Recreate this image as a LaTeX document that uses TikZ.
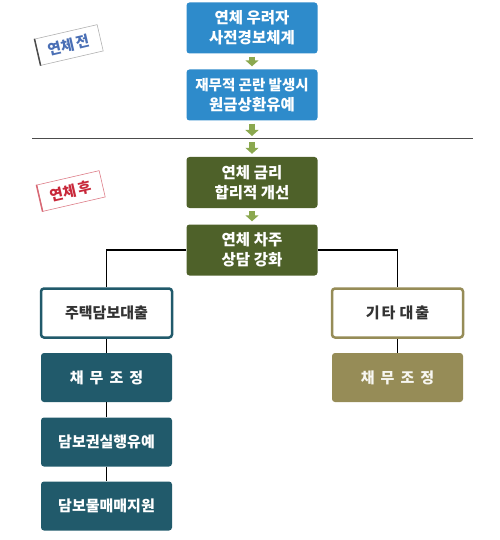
\documentclass[tikz,border=0pt]{standalone}
\usepackage{fontspec}
\setmainfont{Noto Sans CJK KR}
\usetikzlibrary{arrows.meta}
\definecolor{alertblue}{HTML}{2E8BCB}
\definecolor{aftergreen}{HTML}{4E6129}
\definecolor{mortteal}{HTML}{215A6B}
\definecolor{otherolive}{HTML}{968C57}
\definecolor{flowgreen}{HTML}{8BA84F}
\definecolor{stampblue}{HTML}{4A6FB5}
\definecolor{stampred}{HTML}{C8283A}

\begin{document}
\begin{tikzpicture}[x=1pt,y=-1pt,
    box/.style={rounded corners=3pt, minimum width=131pt, minimum height=51pt, align=center, text=white, inner sep=2pt, font=\bfseries\fontsize{15.5}{20}\selectfont},
    loanbox/.style={box, minimum height=49pt, font=\bfseries\fontsize{15}{18}\selectfont},
    headbox/.style={loanbox, fill=white, line width=2.5pt, text=black!80},
    stamp/.style={draw, fill=white, line width=0.6pt, minimum width=64pt, minimum height=27pt, inner sep=1pt, rotate=13, font=\bfseries\fontsize{14.5}{14.5}\selectfont},
    flow/.style={line width=6pt, flowgreen, -{Triangle[width=13pt,length=6pt]}, shorten <=3pt, shorten >=3pt},
    link/.style={line width=1.8pt, black}]
    \useasboundingbox (0,0) rectangle (499,540);

    % before default
    \node[box, fill=alertblue] (warn) at (252,28) {연체 우려자\\사전경보체계};
    \node[box, fill=alertblue] (defer) at (252,95) {{\fontsize{14.5}{20}\selectfont 재무적 곤란 발생시}\\원금상환유예};
    \node[stamp, draw=gray!60, text=stampblue] (before) at (69,45) {연체\hspace{2pt}전};
    \draw[line width=1.5pt, black!70] (before.north west) -- (before.south west);

    \coordinate (lineL) at (32,139);
    \coordinate (lineR) at (473,139);
    \draw[black!70, line width=1pt] (lineL) -- (lineR);

    % after default
    \node[box, fill=aftergreen] (rate) at (252,182.5) {연체 금리\\합리적 개선};
    \node[box, fill=aftergreen] (counsel) at (252,250) {연체 차주\\상담 강화};
    \node[stamp, draw=stampred!60, text=stampred] (after) at (71,191) {연체\hspace{2pt}후};
    \draw[line width=1.5pt, stampred!70] (after.north west) -- (after.south west);

    \draw[flow] (warn.south) -- (defer.north);
    \draw[flow] (defer.south) -- (defer.south |- lineL);
    \draw[flow] (rate.north |- lineL) -- (rate.north);
    \draw[flow] (rate.south) -- (counsel.north);

    % mortgage loans
    \node[headbox, draw=mortteal] (mortgage) at (106.5,313) {주택담보대출};
    \node[loanbox, fill=mortteal] (adjustL) at (106.5,377.5) {채\hspace{6pt}무\hspace{6pt}조\hspace{6pt}정};
    \node[loanbox, fill=mortteal] (foreclose) at (106.5,442) {담보권실행유예};
    \node[loanbox, fill=mortteal] (sale) at (106.5,506) {담보물매매지원};

    % other loans
    \node[headbox, draw=otherolive] (other) at (397.5,313) {기\hspace{2pt}타\hspace{4pt}대\hspace{2pt}출};
    \node[loanbox, fill=otherolive, text=white!92!otherolive] (adjustR) at (397.5,377.5) {채\hspace{6pt}무\hspace{6pt}조\hspace{6pt}정};

    \draw[link] (counsel.west) -| (mortgage.north);
    \draw[link] (counsel.east) -| (other.north);
    \draw[link] (mortgage) -- (adjustL);
    \draw[link] (adjustL) -- (foreclose);
    \draw[link] (foreclose) -- (sale);
    \draw[link] (other) -- (adjustR);
\end{tikzpicture}
\end{document}
